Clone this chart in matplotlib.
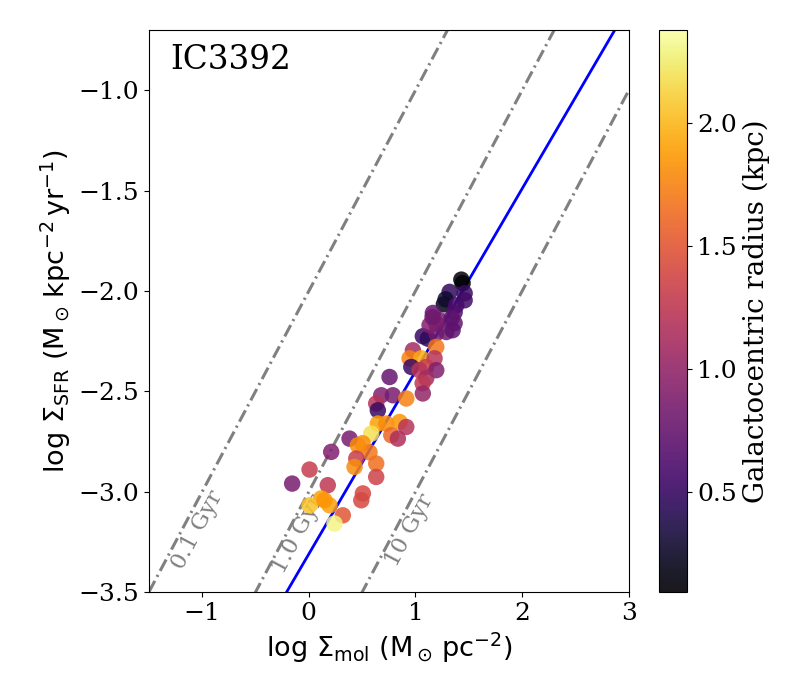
import numpy as np
import matplotlib
matplotlib.use('Agg')
from matplotlib import pyplot as plt

plt.rcParams['font.family'] = 'serif'
plt.rcParams['font.size'] = 18

# log Sigma_mol, log Sigma_SFR, galactocentric radius (kpc)
log_mol = [1.430, 1.442, 1.320, 1.461, 1.266, 1.282, 1.383, 1.367, 1.163, 1.195,
           1.367, 1.289, 1.069, 1.116, 1.195, 1.348, 1.195, 0.976, 0.945, 1.054,
           1.179, 0.961, 1.101, 1.195, 1.038, 0.757, 1.101, 1.067, 1.069, 0.679,
           0.788, 0.914, 0.632, 0.647, 0.647, 0.585, 0.726, 0.851, 0.914, 0.773,
           0.835, 0.504, 0.569, 0.382, 0.460, 0.210, 0.445, 0.632, 0.429, 0.632,
           0.507, 0.492, 0.319, 0.007, -0.156, 0.178, 0.116, 0.007, 0.194, 0.241,
           0.147, 1.226, 1.339, 1.132, 1.461, 1.160]
log_sfr = [-1.943, -1.961, -2.004, -2.011, -2.066, -2.041, -2.071, -2.106, -2.109, -2.162,
           -2.160, -2.204, -2.225, -2.237, -2.210, -2.195, -2.278, -2.295, -2.335, -2.335,
           -2.335, -2.378, -2.378, -2.394, -2.394, -2.428, -2.434, -2.459, -2.510, -2.519,
           -2.519, -2.535, -2.560, -2.594, -2.660, -2.710, -2.660, -2.652, -2.677, -2.718,
           -2.735, -2.758, -2.803, -2.735, -2.768, -2.801, -2.834, -2.859, -2.876, -2.926,
           -3.008, -3.042, -3.117, -2.889, -2.959, -2.967, -3.033, -3.067, -3.067, -3.158,
           -3.042, -2.145, -2.135, -2.170, -2.046, -2.130]
radius = [0.09, 0.12, 0.45, 0.50, 0.18, 0.28, 0.60, 0.60, 0.75, 0.90,
          0.75, 0.80, 0.50, 0.45, 0.80, 0.70, 1.70, 1.10, 1.75, 1.95,
          1.20, 0.50, 1.30, 0.90, 1.20, 0.75, 1.10, 1.25, 1.00, 0.90,
          0.85, 1.75, 1.20, 0.50, 1.90, 2.20, 1.80, 1.85, 1.20, 1.60,
          1.15, 1.80, 1.70, 0.85, 1.80, 0.90, 1.30, 1.65, 1.80, 1.35,
          1.40, 1.40, 1.50, 1.30, 0.85, 1.25, 1.90, 2.05, 1.90, 2.30,
          1.85, 0.85, 0.70, 0.90, 0.55, 0.80]

# fit and depletion times
fit_slope = 0.91
fit_icpt = -3.31
tdep_gyr = [0.1, 1.0, 10.0]
tdep_labels = ['0.1 Gyr', '1.0 Gyr', '10 Gyr']
tdep_text_xy = [(-1.04, -3.19), (-0.10, -3.21), (0.95, -3.19)]

fig = plt.figure(figsize=(8, 7), dpi=100)
ax = fig.add_axes([0.186, 0.154, 0.60, 0.803])
cax = fig.add_axes([0.824, 0.154, 0.035, 0.803])

xx = np.array([-1.5, 3.0])
for t, lab, (tx, ty) in zip(tdep_gyr, tdep_labels, tdep_text_xy):
    ax.plot(xx, xx + 6 - np.log10(t * 1e9), c='gray', lw=2.2,
            dashes=(4.2, 1.5, 0.7, 1.5))
    ax.text(tx, ty, lab, color='gray', fontsize=16.5, rotation=62,
            ha='center', va='center')

ax.plot(xx, fit_slope * xx + fit_icpt, c='b', lw=2)

sc = ax.scatter(log_mol, log_sfr, c=radius, cmap='inferno', s=140, alpha=0.85,
                edgecolors='none', vmin=0.09, vmax=2.38, zorder=3)

ax.set_xlim(-1.5, 3)
ax.set_ylim(-3.5, -0.7)
ax.set_xticks([-1, 0, 1, 2, 3])
ax.set_yticks([-3.5, -3.0, -2.5, -2.0, -1.5, -1.0])
ax.set_xlabel(r'$\log\,\Sigma_{\rm mol}\ (\rm M_\odot\,pc^{-2})$', fontsize=19.5)
ax.set_ylabel(r'$\log\,\Sigma_{\rm SFR}\ (\rm M_\odot\,kpc^{-2}\,yr^{-1})$', fontsize=19.5)
ax.text(0.045, 0.975, 'IC3392', transform=ax.transAxes, fontsize=23.5,
        ha='left', va='top')

cb = fig.colorbar(sc, cax=cax)
cb.solids.set_alpha(0.9)
cb.set_ticks([0.5, 1.0, 1.5, 2.0])
cb.set_label('Galactocentric radius (kpc)', fontsize=20)

plt.savefig('out.png')
